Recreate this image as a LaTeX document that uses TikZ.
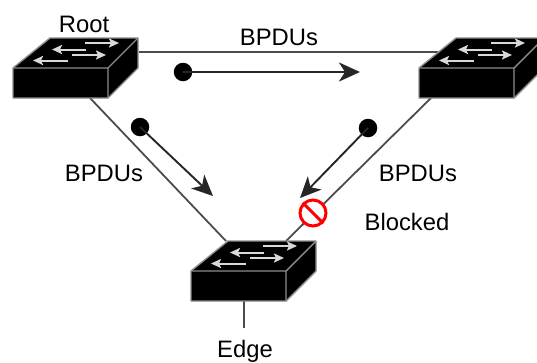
\documentclass[tikz,border=0pt]{standalone}
\usepackage{fontspec}
\setmainfont{Liberation Sans}
\usetikzlibrary{arrows.meta}
\tikzset{
  x=1pt,y=-1pt,
  lbl/.style={inner sep=0pt,font=\fontsize{23.8}{26}\selectfont,text=black},
  link/.style={draw=black!70,line width=1.8pt},
  flow/.style={draw=black!85,line width=1.9pt,-{Stealth[length=21pt,width=19pt,inset=6pt]}},
  dotnode/.style={circle,fill=black,inner sep=0pt,minimum size=18.5pt},
  swbody/.style={fill=black,draw=black!45,line width=1.4pt,line join=round},
  swarrow/.style={draw=black!15,line width=2pt,-{Stealth[length=10pt,width=9pt,inset=2pt]}},
  switchbox/.pic={
    \path[swbody] (0,0) -- (37,-30) -- (125,-30) -- (125,0) -- (95,30) -- (0,30) -- cycle;
    \draw[draw=black!45,line width=1.4pt,line join=round] (0,0) -- (95,0) -- (125,-30) (95,0) -- (95,30);
    \draw[swarrow] (72,-25) -- (106,-25);
    \draw[swarrow] (73,-18.5) -- (39,-18.5);
    \draw[swarrow] (59,-13) -- (93,-13);
    \draw[swarrow] (55,-7.5) -- (20,-7.5);
  }
}
\begin{document}
\begin{tikzpicture}
\useasboundingbox (0,0) rectangle (537,362);
\begin{scope}
\clip (0,0) rectangle (537,362);
% connector anchors on the switches
\coordinate (rootE) at (139,52);
\coordinate (rootS) at (90,98);
\coordinate (rightW) at (438,52);
\coordinate (rightS) at (431,98);
\coordinate (edgeL) at (226,241);
\coordinate (edgeR) at (286,241);
\coordinate (edgeS) at (244,301);
\coordinate (edgeEnd) at (244,328);
\coordinate (a1) at (360,72);
\coordinate (a2) at (213,196);
\coordinate (a3) at (300,198);
% links
\draw[link] (rootE) -- (rightW);
\draw[link] (rootS) -- (edgeL);
\draw[link] (rightS) -- (edgeR);
\draw[link] (edgeS) -- (edgeEnd);
% switches
\pic at (13,68) {switchbox};
\pic at (419,68) {switchbox};
\pic at (191,271) {switchbox};
% flows
\node[dotnode] (d1) at (183,72) {};
\node[dotnode] (d2) at (140,127) {};
\node[dotnode] (d3) at (368,128) {};
\draw[flow] (d1.center) -- (a1);
\draw[flow] (d2.center) -- (a2);
\draw[flow] (d3.center) -- (a3);
% blocked sign
\node[circle,draw=red,fill=white,line width=3pt,minimum size=26pt,inner sep=0pt] (no) at (313,213) {};
\draw[red,line width=3pt] (no.north west) -- (no.south east);
\end{scope}
% labels
\node[lbl] (root) at (84,24) {Root};
\node[lbl] (b1) at (279,37) {BPDUs};
\node[lbl] (b2) at (104,173) {BPDUs};
\node[lbl] (b3) at (418,173) {BPDUs};
\node[lbl] (bl) at (407,222) {Blocked};
\node[lbl] (edge) at (245,351) {Edge};
\end{tikzpicture}
\end{document}
